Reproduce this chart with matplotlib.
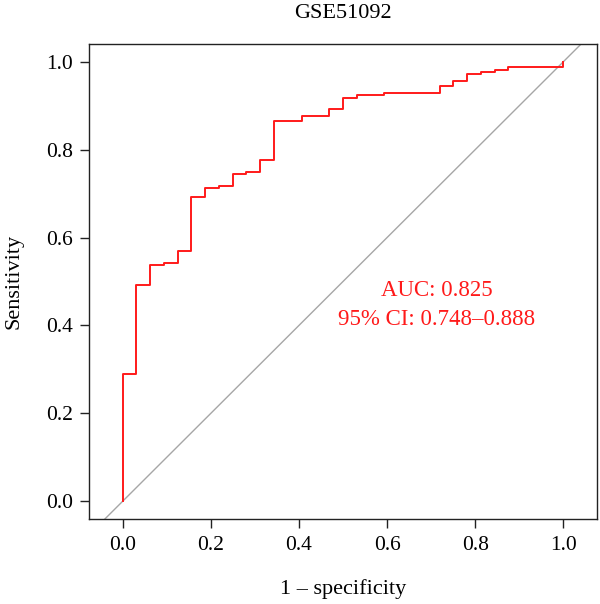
import matplotlib
matplotlib.use("Agg")
import matplotlib.pyplot as plt

plt.rcParams['font.family'] = ['Liberation Serif', 'DejaVu Serif']

# ROC vertices (1 - specificity, sensitivity)
fpr = [0.0, 0.0, 0.031, 0.062, 0.094, 0.125, 0.156, 0.188, 0.219, 0.250,
       0.281, 0.312, 0.344, 0.406, 0.469, 0.500, 0.531, 0.594, 0.719, 0.750,
       0.781, 0.812, 0.844, 0.875, 1.000]
tpr = [0.0, 0.290, 0.491, 0.538, 0.543, 0.569, 0.691, 0.712, 0.718, 0.744,
       0.749, 0.776, 0.866, 0.876, 0.892, 0.918, 0.923, 0.929, 0.945, 0.955,
       0.971, 0.977, 0.982, 0.987, 1.000]

title = 'GSE51092'
auc_text = 'AUC: 0.825'
ci_text = '95% CI: 0.748\u20130.888'
ticks = [0.0, 0.2, 0.4, 0.6, 0.8, 1.0]

fig = plt.figure(figsize=(6.0, 6.04), dpi=100)
ax = fig.add_axes([89/600, 1 - 519/604, (597 - 89)/600, (519 - 44)/604])

ax.axline((0, 0), (1, 1), color='#a6a6a6', lw=1.0, zorder=1)
ax.plot(fpr, tpr, drawstyle='steps-post', color='#ff1a1a', lw=1.4, zorder=2)

ax.text(0.7125, 0.48, auc_text, color='#ff1a1a', fontsize=16.5,
        ha='center', va='center')
ax.text(0.7125, 0.414, ci_text, color='#ff1a1a', fontsize=16.5,
        ha='center', va='center')

ax.set_xlim(-0.076, 1.076)
ax.set_ylim(-0.04, 1.04)
ax.set_xticks(ticks)
ax.set_yticks(ticks)
ax.set_xticklabels(['%.1f' % t for t in ticks])
ax.set_yticklabels(['%.1f' % t for t in ticks])
ax.tick_params(direction='out', length=6.5, width=1.0, labelsize=15.5,
               color='#222222')
ax.tick_params(axis='x', pad=6)
ax.tick_params(axis='y', pad=5)
for s in ax.spines.values():
    s.set_linewidth(1.0)
    s.set_color('#222222')

ax.set_xlabel('1 \u2013 specificity', fontsize=16, labelpad=17)
ax.set_ylabel('Sensitivity', fontsize=16, labelpad=16)
ax.set_title(title, fontsize=16, pad=19)

fig.savefig('out.png', dpi=100)
